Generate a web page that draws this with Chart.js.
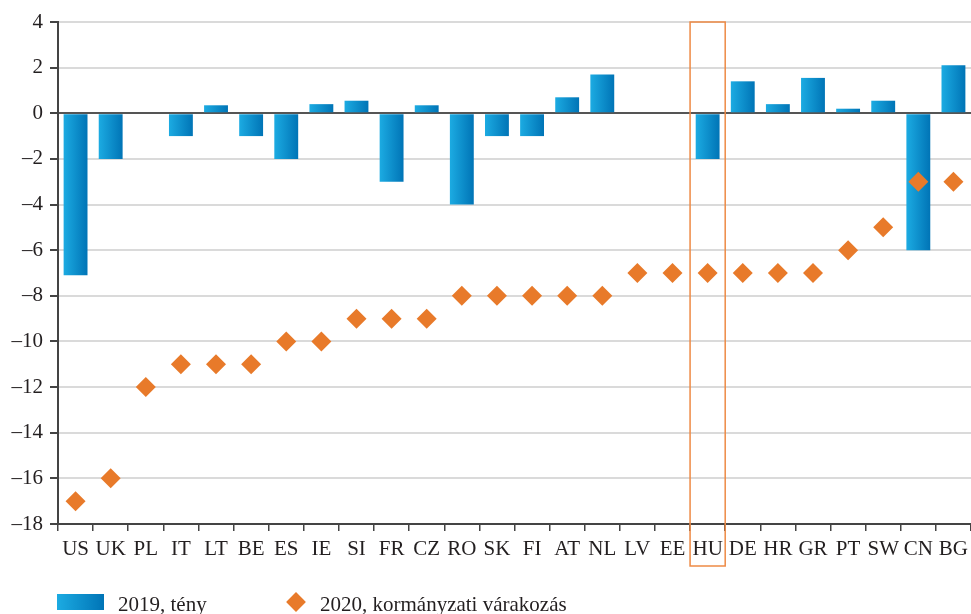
<!DOCTYPE html>
<html>
<head>
<meta charset="utf-8">
<script src="https://cdn.jsdelivr.net/npm/chart.js@4"></script>
<style>
  body { margin: 0; background: #fff; font-family: "Liberation Serif", serif; color: #231f20; }
  #wrap { position: relative; width: 971px; height: 614px; overflow: hidden; }
  .lg { position: absolute; font-size: 21px; line-height: 22px; white-space: nowrap; }
  .box { position: absolute; left: 57px; top: 594px; width: 47px; height: 16px;
         background: linear-gradient(to right, #1cabe2, #0074b6); }
  .dia { position: absolute; left: 289px; top: 595px; width: 14px; height: 14px;
         background: #e87a2a; transform: rotate(45deg); }
</style>
</head>
<body>
<div id="wrap">
  <canvas id="chart" width="971" height="614"></canvas>
  <div class="box"></div>
  <div class="lg" style="left:118px; top:593px;">2019, tény</div>
  <div class="dia"></div>
  <div class="lg" style="left:320px; top:593px;">2020, kormányzati várakozás</div>
</div>
<script>
// Country codes
const countries = ['US', 'UK', 'PL', 'IT', 'LT', 'BE', 'ES', 'IE', 'SI', 'FR', 'CZ', 'RO', 'SK',
    'FI', 'AT', 'NL', 'LV', 'EE', 'HU', 'DE', 'HR', 'GR', 'PT', 'SW', 'CN', 'BG'];

// 2019, actual
const actual2019 = [-7.1, -2, 0, -1, 0.35, -1, -2, 0.4, 0.55, -3, 0.35, -4, -1,
    -1, 0.7, 1.7, 0, 0, -2, 1.4, 0.4, 1.55, 0.2, 0.55, -6, 2.1];

// 2020, government expectation
const expected2020 = [-17, -16, -12, -11, -11, -11, -10, -10, -9, -9, -9, -8, -8,
    -8, -8, -8, -7, -7, -7, -7, -7, -7, -6, -5, -3, -3];

const yTicks = [4, 2, 0, -2, -4, -6, -8, -10, -12, -14, -16, -18];
const highlight = 'HU';

const FONT = { family: '"Liberation Serif", serif', size: 21 };
const catPct = 0.68;

// horizontal gradient for each bar, from the x scale
function barGradient(c) {
    const chart = c.chart;
    const xs = chart.scales.x;
    if (!xs || !chart.chartArea) return '#0a90d0';
    const cx = xs.getPixelForValue(c.dataIndex);
    const w = (xs.width / countries.length) * catPct;
    const g = chart.ctx.createLinearGradient(cx - w / 2, 0, cx + w / 2, 0);
    g.addColorStop(0, '#1cabe2');
    g.addColorStop(1, '#0074b6');
    return g;
}

// orange frame around HU
const highlightBox = {
    id: 'highlightBox',
    afterDraw(chart) {
        const xs = chart.scales.x, ys = chart.scales.y;
        const i = countries.indexOf(highlight);
        const half = xs.width / countries.length / 2;
        const cx = xs.getPixelForValue(i);
        const top = ys.getPixelForValue(yTicks[0]);
        const bottom = chart.chartArea.bottom + 42;
        const ctx = chart.ctx;
        ctx.save();
        ctx.strokeStyle = '#ee8a45';
        ctx.lineWidth = 1.5;
        ctx.strokeRect(cx - half, top, half * 2, bottom - top);
        ctx.restore();
    }
};

const ctx = document.getElementById('chart').getContext('2d');
const chart = new Chart(ctx, {
    type: 'bar',
    data: {
        labels: countries,
        datasets: [
            {
                type: 'line',
                label: '2020, kormányzati várakozás',
                data: expected2020,
                showLine: false,
                pointStyle: 'rectRot',
                pointRadius: 10,
                pointHoverRadius: 10,
                backgroundColor: '#e87a2a',
                borderColor: '#e87a2a',
                borderWidth: 0,
                clip: false,
                order: 0
            },
            {
                label: '2019, tény',
                data: actual2019,
                backgroundColor: barGradient,
                categoryPercentage: catPct,
                barPercentage: 1,
                order: 1
            }
        ]
    },
    options: {
        responsive: false,
        animation: false,
        layout: { autoPadding: false, padding: { top: 22, right: 0, left: 0, bottom: 0 } },
        plugins: {
            legend: { display: false },
            tooltip: { enabled: false }
        },
        scales: {
            x: {
                grid: {
                    offset: true,
                    drawOnChartArea: false,
                    tickLength: 7,
                    tickColor: '#444',
                    lineWidth: 1.5
                },
                border: { color: '#444', width: 2 },
                ticks: { color: '#231f20', font: FONT, padding: 6, maxRotation: 0, autoSkip: false },
                afterFit(scale) {
                    scale.height = 90;
                    scale.paddingLeft = 0;
                    scale.paddingRight = 0;
                }
            },
            y: {
                min: -18,
                max: 4,
                afterBuildTicks(scale) { scale.ticks = yTicks.map(v => ({ value: v })); },
                grid: {
                    color: c => c.tick && c.tick.value === 0 ? '#555' : '#dadada',
                    lineWidth: 2,
                    tickLength: 8,
                    tickColor: '#444'
                },
                border: { color: '#444', width: 2 },
                ticks: {
                    color: '#231f20',
                    font: FONT,
                    padding: 7,
                    callback: v => v < 0 ? '\u2013' + Math.abs(v) : String(v)
                },
                afterFit(scale) { scale.width = 58; }
            }
        }
    },
    plugins: [highlightBox]
});
</script>
</body>
</html>
